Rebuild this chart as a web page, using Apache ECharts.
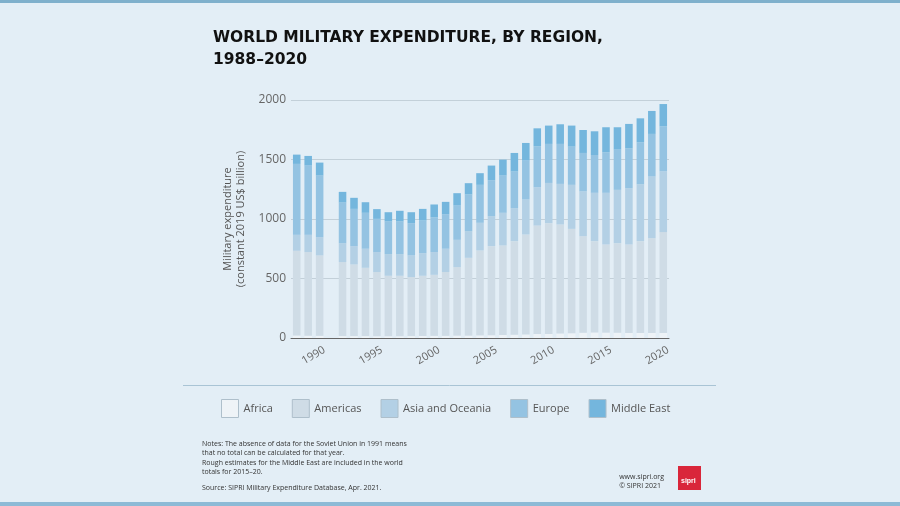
<!DOCTYPE html>
<html>
<head>
<meta charset="utf-8">
<script src="https://cdn.jsdelivr.net/npm/echarts@6/dist/echarts.min.js"></script>
<style>
html,body{margin:0;padding:0;background:#e3eef6;}
#chart{width:900px;height:506px;}
</style>
</head>
<body>
<div id="chart"></div>
<script>
const years = ['1988','1989','1990','1991','1992','1993','1994','1995','1996','1997','1998','1999','2000','2001','2002','2003','2004','2005','2006','2007','2008','2009','2010','2011','2012','2013','2014','2015','2016','2017','2018','2019','2020'];
const africa   = [20,19,18,null,16,16,16,15,15,15,16,17,18,18,20,20,22,24,25,27,30,33,34,38,40,44,47,45,44,42,42,42,43];
const americas = [713,703,676,null,622,602,574,539,508,508,496,506,513,536,576,654,714,748,753,787,840,912,931,916,877,812,767,741,753,744,772,797,847];
const asia     = [134,145,154,null,159,154,160,168,182,182,182,190,191,196,229,224,232,252,274,277,294,322,338,341,370,376,406,434,448,473,478,518,511];
const europe   = [596,582,517,null,341,313,302,279,274,274,271,274,293,288,288,308,319,302,313,308,327,344,328,336,321,323,318,341,338,335,353,358,378];
const mideast  = [78,81,109,null,90,93,89,82,78,90,92,98,107,106,104,95,98,123,134,156,148,151,154,165,177,193,199,210,188,205,201,193,187];
const yTicks = [0,500,1000,1500,2000];
const seriesNames = ['Africa','Americas','Asia and Oceania','Europe','Middle East'];
const seriesColors = ['#eef3f7','#cfdce6','#b3d0e5','#94c3e2','#74b6dd'];

const FONT = '"Open Sans", "Liberation Sans", sans-serif';
const chart = echarts.init(document.getElementById('chart'));
const dataSets = [africa, americas, asia, europe, mideast];
const series = dataSets.map((d, i) => ({
  name: seriesNames[i],
  type: 'bar',
  stack: 'total',
  data: d,
  barCategoryGap: '34%',
  itemStyle: {color: seriesColors[i]},
  emphasis: {disabled: true}
}));

chart.setOption({
  backgroundColor: '#e3eef6',
  animation: false,
  textStyle: {fontFamily: FONT},
  title: {
    text: 'WORLD MILITARY EXPENDITURE, BY REGION,\n1988–2020',
    left: 208, top: 22,
    textStyle: {fontFamily: '"DejaVu Sans", sans-serif', fontSize: 15.5, fontWeight: 'bold', color: '#111', lineHeight: 22}
  },
  grid: {left: 291, right: 231, top: 100, bottom: 168, containLabel: false},
  legend: {
    data: seriesNames,
    left: 216, top: 394,
    itemWidth: 17, itemHeight: 18, itemGap: 19,
    icon: 'rect',
    itemStyle: {borderColor: '#aebfcb', borderWidth: 1},
    textStyle: {fontFamily: FONT, fontSize: 11, color: '#555'},
    selectedMode: false
  },
  xAxis: {
    type: 'category',
    data: years,
    axisLine: {lineStyle: {color: '#666', width: 1}},
    axisTick: {alignWithLabel: true, length: 5, lineStyle: {color: '#666'}, interval: (i, v) => Number(v) % 5 === 0},
    axisLabel: {
      interval: (i, v) => Number(v) % 5 === 0,
      rotate: 30, align: 'center', padding: [0, 14, 0, 0], margin: 14,
      fontFamily: FONT, fontSize: 11, color: '#666'
    }
  },
  yAxis: {
    type: 'value',
    min: yTicks[0], max: yTicks[yTicks.length - 1], interval: 500,
    name: 'Military expenditure\n(constant 2019 US$ billion)',
    nameLocation: 'middle', nameGap: 44, nameRotate: 90,
    nameTextStyle: {fontFamily: FONT, fontSize: 11, color: '#555', lineHeight: 13},
    axisLine: {show: false},
    axisTick: {show: false},
    axisLabel: {fontFamily: FONT, fontSize: 12, color: '#666', margin: 5, formatter: v => String(v)},
    splitLine: {lineStyle: {color: '#c3d0d9', width: 1}}
  },
  series: series,
  graphic: [
    {type: 'rect', left: 0, top: 0, shape: {width: 900, height: 3}, style: {fill: '#7fb0cc'}, silent: true},
    {type: 'rect', left: 0, top: 502, shape: {width: 900, height: 4}, style: {fill: '#8dbad6'}, silent: true},
    {type: 'line', shape: {x1: 183, y1: 385.5, x2: 716, y2: 385.5}, style: {stroke: '#a9c4d5', lineWidth: 1}, silent: true},
    {type: 'text', left: 202, top: 439, style: {text: 'Notes: The absence of data for the Soviet Union in 1991 means\nthat no total can be calculated for that year.', fontFamily: FONT, fontSize: 7, lineHeight: 9, fill: '#333'}},
    {type: 'text', left: 202, top: 458, style: {text: 'Rough estimates for the Middle East are included in the world\ntotals for 2015–20.', fontFamily: FONT, fontSize: 7, lineHeight: 9, fill: '#333'}},
    {type: 'text', left: 202, top: 483, style: {text: 'Source: SIPRI Military Expenditure Database, Apr. 2021.', fontFamily: FONT, fontSize: 7, lineHeight: 9, fill: '#333'}},
    {type: 'text', right: 236, top: 472, style: {text: 'www.sipri.org\n© SIPRI 2021', fontFamily: FONT, fontSize: 7, lineHeight: 9, fill: '#333', align: 'right'}},
    {type: 'rect', left: 678, top: 466, shape: {width: 23, height: 24}, style: {fill: '#d9263a'}, silent: true},
    {type: 'text', left: 681, top: 478, style: {text: 'sipri', fontFamily: '"Liberation Sans", sans-serif', fontSize: 7, fontWeight: 'bold', fill: '#fff'}}
  ]
});
</script>
</body>
</html>
